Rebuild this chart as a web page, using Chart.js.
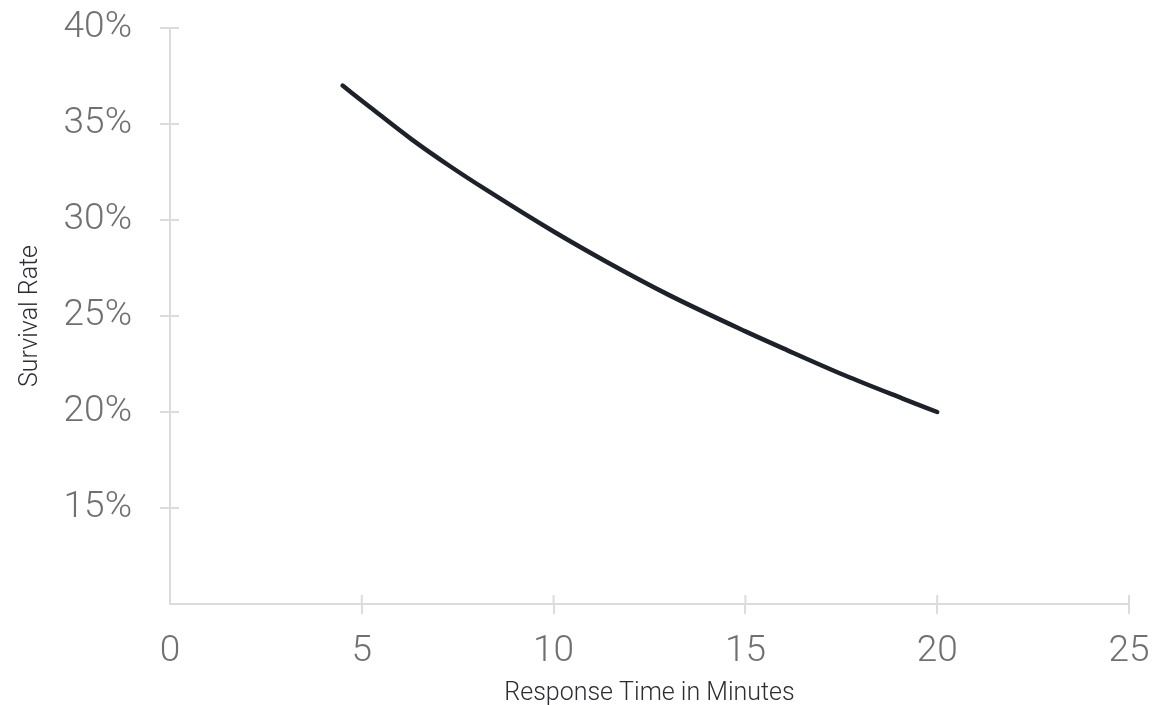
<!DOCTYPE html>
<html lang="en">
<head>
    <meta charset="UTF-8">
    <title>Survival Rate vs Response Time</title>
    <script src="https://cdn.jsdelivr.net/npm/chart.js"></script>
    <style>
        html, body { margin: 0; padding: 0; background: #fff; }
        .chart-container { width: 1167px; height: 705px; position: relative; }
    </style>
</head>
<body>
    <div class="chart-container"><canvas id="chart"></canvas></div>
    <script>
        // values
        const minutes  = [4.5, 5.2, 6.3, 7.3, 8.3, 10, 11.4, 13, 15, 16, 17.6, 19.1, 20];
        const survival = [37.0, 35.9, 34.2, 32.8, 31.5, 29.4, 27.8, 26.1, 24.2, 23.3, 21.9, 20.7, 20.0];
        const xTicks = [0, 5, 10, 15, 20, 25];
        const yTicks = [15, 20, 25, 30, 35, 40];

        const axisGray = '#dcdcdc';
        const labelGray = '#707074';
        const fontFamily = "Roboto, 'Noto Sans', sans-serif";

        // tick marks in the reference cross the axis line, so draw the inner half too
        const crossTicks = {
            id: 'crossTicks',
            afterDraw(chart) {
                const ctx = chart.ctx;
                const x = chart.scales.x, y = chart.scales.y;
                ctx.save();
                ctx.strokeStyle = axisGray;
                ctx.lineWidth = 2;
                ctx.beginPath();
                x.ticks.forEach((t, i) => {
                    if (t.value === 0) return;
                    const px = x.getPixelForTick(i);
                    ctx.moveTo(px, x.top);
                    ctx.lineTo(px, x.top - 9);
                });
                y.ticks.forEach((t, i) => {
                    const py = y.getPixelForTick(i);
                    ctx.moveTo(y.right, py);
                    ctx.lineTo(y.right + 9, py);
                });
                ctx.stroke();
                ctx.restore();
            }
        };

        new Chart(document.getElementById('chart').getContext('2d'), {
            type: 'line',
            data: {
                datasets: [{
                    data: minutes.map((m, i) => ({ x: m, y: survival[i] })),
                    borderColor: '#1d2129',
                    borderWidth: 4.5,
                    borderCapStyle: 'round',
                    pointRadius: 0,
                    cubicInterpolationMode: 'monotone',
                    fill: false
                }]
            },
            options: {
                responsive: true,
                maintainAspectRatio: false,
                animation: false,
                layout: { padding: { top: 28, right: 38, left: 0, bottom: 0 } },
                plugins: { legend: { display: false }, tooltip: { enabled: false } },
                scales: {
                    x: {
                        type: 'linear',
                        min: 0,
                        max: 25,
                        afterBuildTicks: s => { s.ticks = xTicks.map(v => ({ value: v })); },
                        afterFit: s => { s.height = 101; },
                        ticks: {
                            color: labelGray,
                            padding: 16,
                            font: { family: fontFamily, size: 37, weight: '300' }
                        },
                        grid: {
                            drawOnChartArea: false,
                            tickLength: 10,
                            lineWidth: 2,
                            color: c => (c.tick && c.tick.value === 0) ? 'rgba(0,0,0,0)' : axisGray
                        },
                        border: { color: axisGray, width: 2 },
                        title: {
                            display: true,
                            text: 'Response Time in Minutes',
                            color: '#2b2d33',
                            padding: { top: 0, bottom: -4 },
                            font: { family: fontFamily, size: 25, weight: '300' }
                        }
                    },
                    y: {
                        min: 10,
                        max: 40,
                        afterBuildTicks: s => { s.ticks = yTicks.map(v => ({ value: v })); },
                        afterFit: s => { s.width = 170; s.paddingTop = 0; s.paddingBottom = 0; },
                        ticks: {
                            color: labelGray,
                            padding: 28,
                            callback: v => v + '%',
                            font: { family: fontFamily, size: 37, weight: '300' }
                        },
                        grid: {
                            drawOnChartArea: false,
                            tickLength: 10,
                            lineWidth: 2,
                            color: axisGray
                        },
                        border: { color: axisGray, width: 2 },
                        title: {
                            display: true,
                            text: 'Survival Rate',
                            color: '#2b2d33',
                            padding: { top: 16, bottom: 0 },
                            font: { family: fontFamily, size: 25, weight: '300' }
                        }
                    }
                }
            },
            plugins: [crossTicks]
        });
    </script>
</body>
</html>
